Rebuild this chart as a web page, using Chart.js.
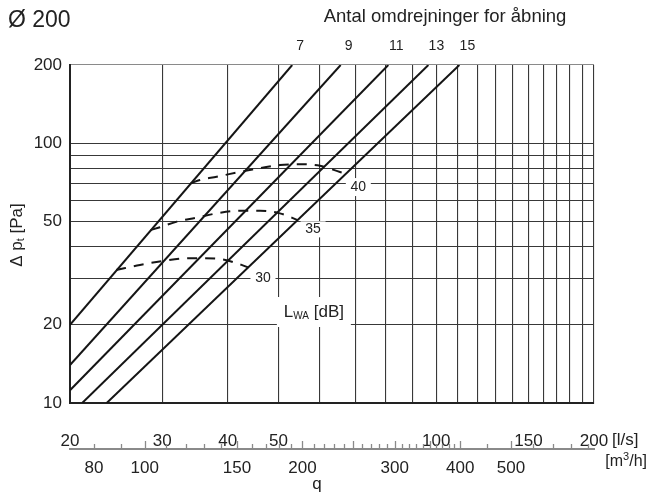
<!DOCTYPE html>
<html><head><meta charset="utf-8">
<script src="https://cdn.jsdelivr.net/npm/chart.js@4.4.1/dist/chart.umd.min.js"></script>
<style>html,body{margin:0;padding:0;background:#fff}#wrap{width:648px;height:502px;position:relative}</style>
</head><body><div id="wrap"><canvas id="c"></canvas></div>
<script>
const FONT = "'Liberation Sans', Arial, Helvetica, sans-serif";

// Opening lines (number of turns), straight lines in log-log: start/end [q l/s, dp Pa]
const turnLabels = ['7', '9', '11', '13', '15'];
const turnStartQ = [20, 20, 20, 21.1, 23.5];
const turnStartP = [20, 14.0, 11.2, 10, 10];
const turnEndQ = [53.1, 65.7, 81.0, 96.6, 110.7];
const turnEndP = [200, 200, 200, 200, 200];

// Sound power level curves L_WA [dB]
const lwa30Q = [24.5, 27.2, 30.1, 32.9, 35.9, 39.2, 42.5, 43.8];
const lwa30P = [32.5, 34.0, 35.2, 36.0, 36.1, 35.7, 34.0, 33.2];
const lwa35Q = [28.5, 29.7, 32.0, 34.9, 38.1, 42.2, 46.1, 50.3, 54.4];
const lwa35P = [46.3, 47.5, 49.9, 51.7, 53.7, 55.0, 55.0, 53.7, 50.6];
const lwa40Q = [34.0, 35.4, 38.1, 43.5, 50.3, 55.0, 60.0, 65.5, 67.5];
const lwa40P = [70.1, 72.2, 74.3, 78.5, 82.4, 83.0, 81.9, 77.5, 76.3];

// Axes
const yTicks = [10, 20, 30, 40, 50, 60, 70, 80, 90, 100, 200];
const yLabelled = [10, 20, 50, 100, 200];
const xTicks = [20, 30, 40, 50, 60, 70, 80, 90, 100, 110, 120, 130, 140, 150, 160, 170, 180, 190, 200];
const xLabelled = [20, 30, 40, 50, 100, 150, 200];
const m3hTicks = [80, 90, 100, 110, 120, 130, 140, 150, 160, 170, 180, 190, 200, 210, 220, 230, 240, 250,
  260, 270, 280, 290, 300, 310, 320, 330, 340, 350, 360, 370, 380, 390, 400, 450, 500, 550, 600, 650, 700];
const m3hMajor = [100, 150, 200, 250, 300, 350, 400, 500];
const m3hLabelled = [80, 100, 150, 200, 300, 400, 500];

const pts = (qs, ps) => qs.map((q, i) => ({x: q, y: ps[i]}));

const datasets = [];
turnLabels.forEach((t, i) => {
  datasets.push({
    label: 'n=' + t,
    data: [{x: turnStartQ[i], y: turnStartP[i]}, {x: turnEndQ[i], y: turnEndP[i]}],
    borderColor: '#151515', borderWidth: 2, pointRadius: 0, tension: 0
  });
});
[[lwa30Q, lwa30P, '30'], [lwa35Q, lwa35P, '35'], [lwa40Q, lwa40P, '40']].forEach(([q, p, l]) => {
  datasets.push({
    label: 'LWA ' + l,
    data: pts(q, p),
    borderColor: '#151515', borderWidth: 2, borderDash: [10, 8], pointRadius: 0,
    cubicInterpolationMode: 'monotone'
  });
});

// annotation anchors (data coordinates) for the level labels
const levelNotes = [
  {parts: [{t: '40', size: 14}], q: 71.0, p: 67.8, w: 25, h: 18},
  {parts: [{t: '35', size: 14}], q: 58.2, p: 46.6, w: 25, h: 16},
  {parts: [{t: '30', size: 14}], q: 46.7, p: 30.2, w: 25, h: 18},
  {parts: [{t: 'L', size: 17}, {t: 'WA', size: 10, dy: 4}, {t: ' [dB]', size: 17}], q: 58.4, p: 22.4, w: 74, h: 30}
];

function richText(ctx, parts, x, y, align) {
  let w = 0;
  parts.forEach(p => { ctx.font = p.size + 'px ' + FONT; p.w = ctx.measureText(p.t).width; w += p.w; });
  let cx = align === 'center' ? x - w / 2 : (align === 'right' ? x - w : x);
  ctx.textAlign = 'left'; ctx.textBaseline = 'middle';
  parts.forEach(p => { ctx.font = p.size + 'px ' + FONT; ctx.fillText(p.t, cx, y + (p.dy || 0)); cx += p.w; });
  return w;
}

const decor = {
  id: 'decor',
  afterDatasetsDraw(chart) {
    const {ctx} = chart; const x = chart.scales.x, y = chart.scales.y;
    ctx.save();
    levelNotes.forEach(n => {
      const px = x.getPixelForValue(n.q), py = y.getPixelForValue(n.p);
      ctx.fillStyle = '#fff';
      ctx.fillRect(px - n.w / 2, py - n.h / 2, n.w, n.h);
      ctx.fillStyle = '#222';
      richText(ctx, n.parts, px, py, 'center');
    });
    ctx.restore();
  },
  afterDraw(chart) {
    const {ctx} = chart; const x = chart.scales.x, y = chart.scales.y, xm = chart.scales.xm;
    ctx.save();
    ctx.fillStyle = '#222';
    // m3/h tick marks (upward from axis line)
    ctx.strokeStyle = '#8a8a8a'; ctx.lineWidth = 1.3;
    m3hTicks.forEach(v => {
      const px = Math.round(xm.getPixelForValue(v)) + 0.5;
      const len = m3hMajor.includes(v) ? 8 : 5;
      ctx.beginPath(); ctx.moveTo(px, xm.top); ctx.lineTo(px, xm.top - len); ctx.stroke();
    });
    // titles
    richText(ctx, [{t: 'Ø 200', size: 23}], 8, 21, 'left');
    richText(ctx, [{t: 'Antal omdrejninger for åbning', size: 18.5}], 445, 17, 'center');
    turnLabels.forEach((t, i) => {
      richText(ctx, [{t: t, size: 14}], x.getPixelForValue(turnEndQ[i]) + 8, 46, 'center');
    });
    // unit labels
    richText(ctx, [{t: '[l/s]', size: 17}], 612, x.top + 37, 'left');
    richText(ctx, [{t: '[m', size: 16}, {t: '3', size: 11, dy: -5}, {t: '/h]', size: 16}], 647, xm.top + 13, 'right');
    richText(ctx, [{t: 'q', size: 17}], 317, 484, 'center');
    // y axis title, rotated
    ctx.translate(17, (y.top + y.bottom) / 2 + 1);
    ctx.rotate(-Math.PI / 2);
    richText(ctx, [{t: 'Δ p', size: 17}, {t: 't', size: 11, dy: 4}, {t: ' [Pa]', size: 17}], 0, 0, 'center');
    ctx.restore();
  }
};

Chart.defaults.font.family = FONT;
Chart.defaults.color = '#222';

new Chart(document.getElementById('c'), {
  type: 'line',
  data: {datasets},
  plugins: [decor],
  options: {
    responsive: true, maintainAspectRatio: false, animation: false,
    layout: {padding: {left: 0, right: 54, top: 65, bottom: 0}},
    plugins: {legend: {display: false}, tooltip: {enabled: false}},
    scales: {
      x: {
        type: 'logarithmic', position: 'bottom', min: 20, max: 200, weight: 0,
        afterBuildTicks: s => { s.ticks = xTicks.map(v => ({value: v})); },
        afterFit: s => { s.height = 46; },
        ticks: {
          autoSkip: false, maxRotation: 0, padding: 28, font: {size: 17}, color: '#222',
          callback: v => xLabelled.includes(v) ? String(v) : ''
        },
        grid: {drawTicks: false, color: '#383838', lineWidth: 1.1},
        border: {display: true, color: '#222', width: 2}
      },
      xm: {
        type: 'logarithmic', position: 'bottom', min: 72, max: 720, weight: 1,
        afterBuildTicks: s => { s.ticks = m3hTicks.map(v => ({value: v})); },
        afterFit: s => { s.height = 53; },
        ticks: {
          autoSkip: false, maxRotation: 0, padding: 1, font: {size: 17}, color: '#222',
          callback: v => m3hLabelled.includes(v) ? String(v) : ''
        },
        grid: {display: false},
        border: {display: true, color: '#8a8a8a', width: 2}
      },
      y: {
        type: 'logarithmic', position: 'left', min: 10, max: 200,
        afterBuildTicks: s => { s.ticks = yTicks.map(v => ({value: v})); },
        afterFit: s => { s.width = 70; },
        ticks: {
          autoSkip: false, padding: 8, font: {size: 17}, color: '#222',
          callback: v => yLabelled.includes(v) ? String(v) : ''
        },
        grid: {drawTicks: false, color: ctx => (ctx.tick && ctx.tick.value === 200) ? '#8a8a8a' : '#383838', lineWidth: 1.1},
        border: {display: true, color: '#222', width: 2}
      }
    }
  }
});
</script>
</body></html>
